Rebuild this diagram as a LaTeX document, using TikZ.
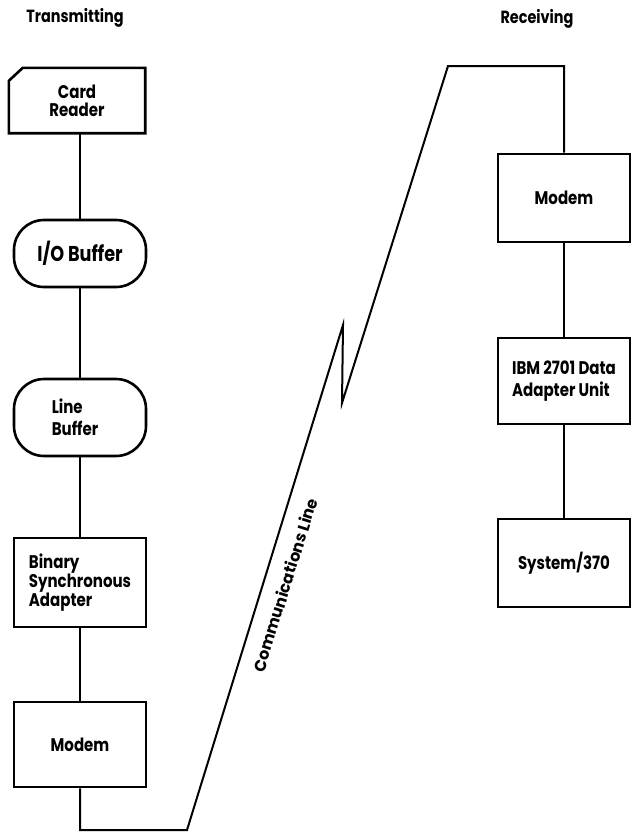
\documentclass[tikz,border=0pt]{standalone}
\usepackage{fontspec}
\setmainfont{Poppins}[FakeStretch=0.82]
\newfontfamily\plainpop{Poppins}
\begin{document}
\begin{tikzpicture}[x=1pt,y=-1pt,
  lbl/.style={font=\bfseries\fontsize{18.3}{18}\selectfont, align=center},
  wide/.style={font=\bfseries\fontsize{18.3}{22}\selectfont},
  box/.style={draw, line width=2.6pt, minimum width=132pt, inner sep=0pt, lbl},
  stad/.style={box, rounded corners=30pt},
  conn/.style={line width=1.6pt},
  comm/.style={line width=2pt, line join=miter},
  head/.style={font=\bfseries\fontsize{17.6}{20}\selectfont}]
\useasboundingbox (0,0) rectangle (632,833);
% headers
\node[head] (tx) at (75,18) {Transmitting};
\node[head] (rx) at (537,19) {Receiving};
% transmitting column
\node[lbl, minimum width=136pt, minimum height=65pt, inner sep=0pt] (cr) at (77,100.5) {Card\\Reader};
\draw[line width=2.6pt, line join=miter] ([xshift=14pt]cr.north west) -- (cr.north east) -- (cr.south east) -- (cr.south west) -- ([yshift=-13pt]cr.north west) -- cycle;
\node[stad, minimum height=67pt, font=\bfseries\fontsize{21.5}{22}\selectfont] (io) at (80,253.5) {I/O Buffer};
\node[stad, minimum height=77pt, align=left, wide] (lb) at (80,417.5) {Line\\Buffer\hspace*{10pt}};
\node[box, minimum height=89pt, align=left] (bsa) at (80,582.5) {Binary\\Synchronous\\Adapter};
\node[box, minimum height=85pt] (lm) at (80,744.5) {Modem};
% receiving column
\node[box, minimum height=88pt] (rm) at (564,198) {Modem};
\node[box, minimum height=86pt, align=left, wide] (ibm) at (564,381) {IBM 2701 Data\\Adapter Unit};
\node[box, minimum height=88pt] (sys) at (564,563) {System/370};
% connectors
\draw[conn] (io.north |- cr.south) -- (io.north);
\draw[conn] (io.south) -- (lb.north);
\draw[conn] (lb.south) -- (bsa.north);
\draw[conn] (bsa.south) -- (lm.north);
\draw[conn] (rm.south) -- (ibm.north);
\draw[conn] (ibm.south) -- (sys.north);
% communications line
\coordinate (b1) at (80,830);
\coordinate (b2) at (187,830);
\coordinate (z1) at (343,325);
\coordinate (z2) at (342,403);
\coordinate (t1) at (448,66);
\coordinate (t2) at (564,66);
\draw[comm] (lm.south) -- (b1) -- (b2) -- (z1) -- (z2) -- (t1) -- (t2) -- (rm.north);
\node[rotate=72.6, inner sep=0pt, font=\plainpop\bfseries\fontsize{16}{18}\selectfont] (cl) at (285,585) {Communications Line};
\end{tikzpicture}
\end{document}
